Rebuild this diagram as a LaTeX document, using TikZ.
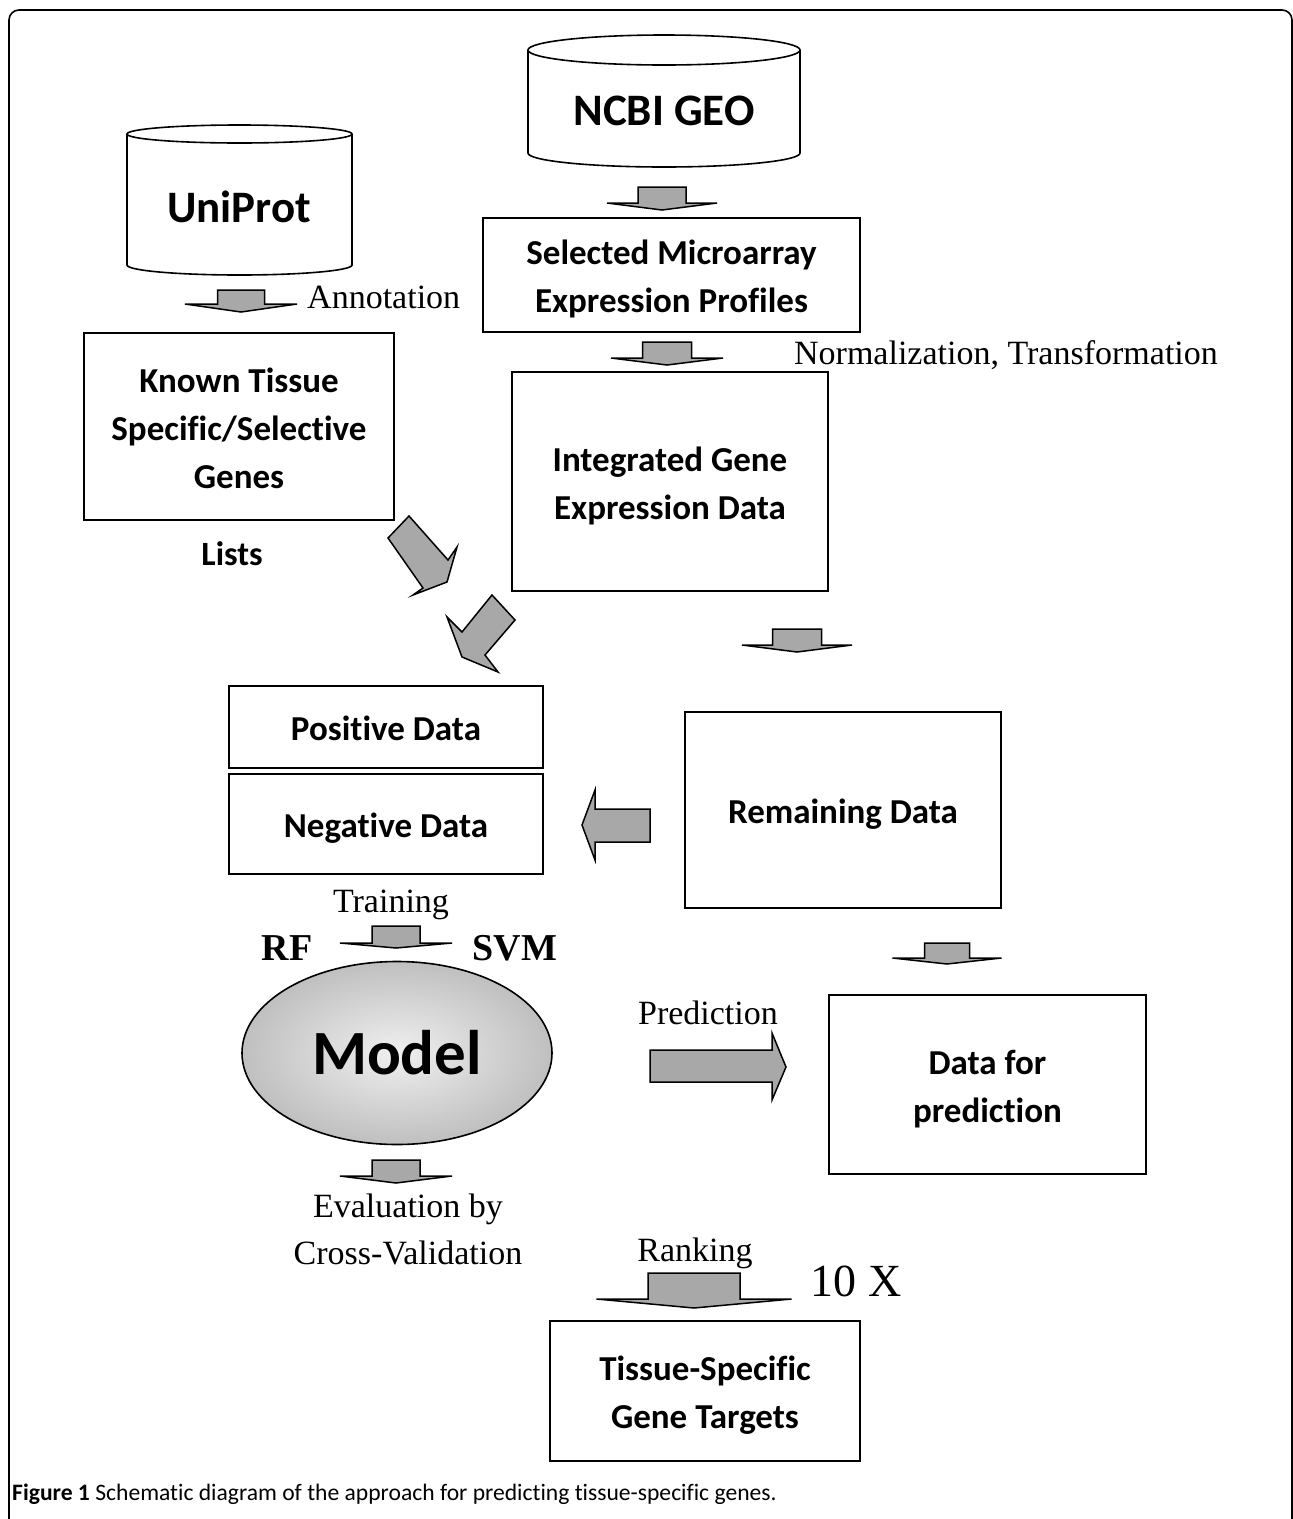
\documentclass[tikz,border=0pt]{standalone}
\usepackage{fontspec}
\setmainfont{Liberation Serif}
\newfontfamily\carl[Ligatures=NoCommon]{Carlito}
\usetikzlibrary{shapes.geometric}
\definecolor{arrowgray}{RGB}{168,168,168}
\newcommand{\darr}[6]{%
  \filldraw[blockarrow] (#1-#2,#3) -- (#1+#2,#3) -- (#1+#2,#4) -- (#1+#5,#4) -- (#1,#6) -- (#1-#5,#4) -- (#1-#2,#4) -- cycle;}
\begin{document}
\begin{tikzpicture}[x=1pt,y=-1pt,
  box/.style={draw, line width=1.6pt, inner sep=0pt},
  boxtext/.style={inner sep=0pt, align=center,
     font=\carl\bfseries\fontsize{35}{48}\selectfont},
  cyl/.style={line width=1.6pt},
  blockarrow/.style={fill=arrowgray, draw=black, line width=1.5pt, line join=miter},
  lab/.style={inner sep=0pt, font=\fontsize{34}{47}\selectfont, align=center},
  sanslab/.style={inner sep=0pt, font=\carl\bfseries\fontsize{34}{40}\selectfont},
  dbtext/.style={inner sep=0pt, font=\carl\bfseries\fontsize{45}{50}\selectfont}]
\useasboundingbox (0,0) rectangle (1293,1519);
\fill[white] (0,0) rectangle (1293,1519);
% frame
\draw[line width=1.6pt, rounded corners=10pt] (9,1540) -- (9,10) -- (1292,10) -- (1292,1540);

% NCBI GEO cylinder
\draw[cyl, fill=white] (528,50) -- (528,153) arc[start angle=180,end angle=360,x radius=136pt,y radius=14pt] -- (800,50);
\draw[cyl] (664,50) ellipse[x radius=136pt, y radius=15pt];
\node[dbtext] (ncbi) at (664,111) {NCBI GEO};

% UniProt cylinder
\draw[cyl, fill=white] (127,134) -- (127,265) arc[start angle=180,end angle=360,x radius=112.5pt,y radius=10pt] -- (352,134);
\draw[cyl] (239.5,134) ellipse[x radius=112.5pt, y radius=9pt];
\node[dbtext] (uni) at (239,207) {UniProt};

% boxes
\node[box, minimum width=377pt, minimum height=114pt] (sel) at (671.5,275) {};
\node[boxtext] (selt) at (671.5,279) {Selected Microarray\\Expression Profiles};
\node[box, minimum width=310pt, minimum height=187pt] (known) at (239,426.5) {};
\node[boxtext] (knownt) at (239,428) {Known Tissue\\Specific/Selective\\Genes};
\node[box, minimum width=316pt, minimum height=219pt] (integ) at (670,481.5) {};
\node[boxtext] (integt) at (670,486) {Integrated Gene\\Expression Data};
\node[box, minimum width=314pt, minimum height=82pt] (pos) at (386,727) {};
\node[boxtext] (post) at (386,728) {Positive Data};
\node[box, minimum width=314pt, minimum height=100pt] (neg) at (386,824) {};
\node[boxtext] (negt) at (386,828.5) {Negative Data};
\node[box, minimum width=316pt, minimum height=196pt] (rem) at (843,810) {};
\node[boxtext] (remt) at (843,814.5) {Remaining Data};
\node[box, minimum width=317pt, minimum height=179pt] (dfp) at (987.5,1084.5) {};
\node[boxtext] (dfpt) at (987.5,1089) {Data for\\prediction};
\node[box, minimum width=310pt, minimum height=140pt] (tst) at (705,1391) {};
\node[boxtext] (tstt) at (705,1395) {Tissue-Specific\\Gene Targets};

% model
\node[ellipse, draw, line width=1.6pt, inner color=white!94!black, outer color=black!25,
      minimum width=310pt, minimum height=183pt, inner sep=0pt,
      font=\carl\bfseries\fontsize{63}{70}\selectfont] (model) at (397,1053) {Model};

% labels
\node[lab, anchor=west] (annot) at (307,297) {Annotation};
\node[lab] (norm) at (1006,355) {Normalization, Transformation};
\node[sanslab] (lists) at (232,554) {Lists};
\node[lab] (train) at (391,905) {Training};
\node[inner sep=0pt, font=\bfseries\fontsize{38}{40}\selectfont] (rf) at (287,948) {RF};
\node[inner sep=0pt, font=\bfseries\fontsize{38}{40}\selectfont] (svm) at (515,948) {SVM};
\node[lab] (pred) at (708,1013) {Prediction};
\node[lab] (eval) at (408,1229) {Evaluation by\\Cross-Validation};
\node[lab] (rank) at (695,1253) {Ranking};
\node[inner sep=0pt, font=\fontsize{46}{50}\selectfont] (tenx) at (856,1281) {10 X};

% block arrows (down)
\darr{662}{24}{187}{203}{55}{210}
\darr{241}{23.5}{290}{304}{56}{312}
\darr{667}{24.5}{342}{358}{56}{365}
\darr{797}{24.5}{629}{645}{55}{652}
\darr{396}{24}{926}{943}{56}{948}
\darr{947}{22.5}{943}{958}{54.5}{964}
\darr{396}{24}{1160}{1176}{56}{1183}
\darr{694}{46}{1273}{1299}{97.5}{1308}

% diagonal arrows
\filldraw[blockarrow] (409,516) -- (448,560) -- (457,547) -- (447,582) -- (413,595) -- (423,588) -- (388,538) -- cycle;
\filldraw[blockarrow] (492,595) -- (462,632) -- (447,617) -- (462,657) -- (498,672) -- (485,655) -- (515,620) -- cycle;
% left arrow
\filldraw[blockarrow] (650,809) -- (595,809) -- (595,790) -- (582,825) -- (595,860) -- (595,842) -- (650,842) -- cycle;
% right arrow
\filldraw[blockarrow] (650,1050) -- (772,1050) -- (772,1033) -- (786,1067) -- (772,1100) -- (772,1082) -- (650,1082) -- cycle;

% caption
\node[anchor=west, inner sep=0pt, font=\carl\fontsize{23.6}{26}\selectfont] (cap) at (12,1494)
  {\textbf{Figure 1} Schematic diagram of the approach for predicting tissue-specific genes.};
\end{tikzpicture}
\end{document}
